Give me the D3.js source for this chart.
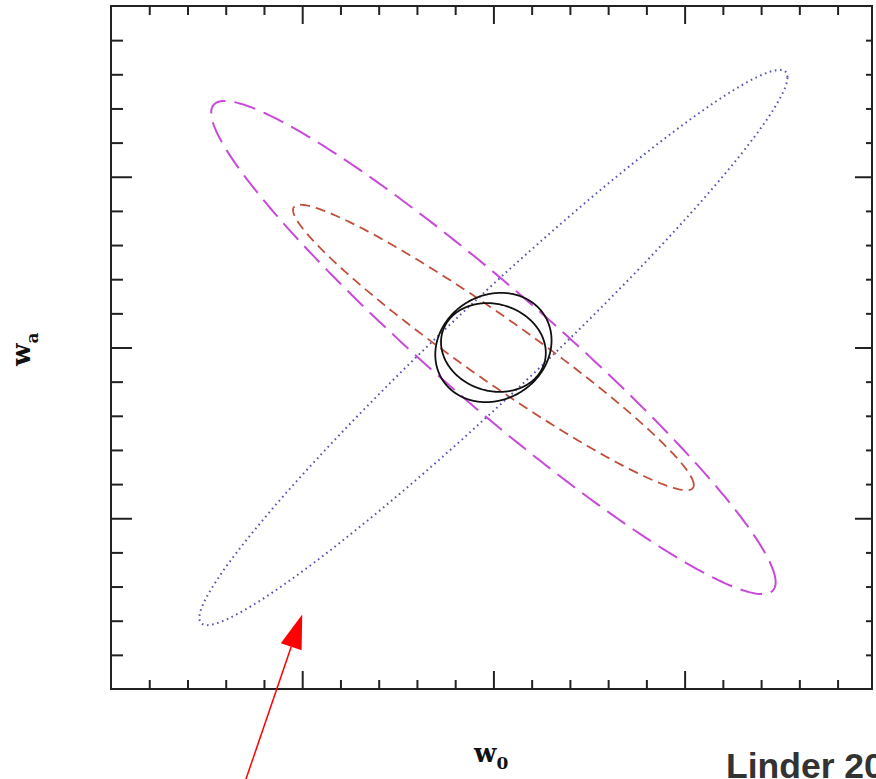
<!DOCTYPE html>
<html>
<head>
<meta charset="utf-8">
<script src="https://cdn.jsdelivr.net/npm/d3@7"></script>
<style>
  html, body { margin: 0; padding: 0; background: #fff; }
  svg { display: block; }
</style>
</head>
<body>
<svg id="chart" width="876" height="779"></svg>
<script>
// Fiducial model (w0, wa)
const fiducialW0 = -1.0;
const fiducialWa = 0.0;

// Confidence contours: half-extent in w0, half-extent in wa, correlation
const contourKeys = ["wideLong", "midShort", "crossDot", "combinedA", "combinedB"];
const halfW0 = [0.738, 0.524, 0.769, 0.152, 0.137];
const halfWa = [0.722, 0.418, 0.813, 0.160, 0.130];
const corrW0Wa = [-0.952, -0.963, 0.9735, 0.13, -0.12];

// Tick positions (no labels shown)
const w0Minor = d3.range(-19, 0).map(i => i / 10);
const w0Major = [-1.5, -1.0, -0.5];
const waMinor = d3.range(-9, 10).map(i => i / 10);
const waMajor = [-0.5, 0.0, 0.5];

// Annotation arrow, in (w0, wa)
const arrowFrom = [-1.652, -1.28];
const arrowTo = [-1.5, -0.782];

const lineStyles = {
  wideLong:  { stroke: "#c84ad8", width: 2.0, dash: "22,9" },
  midShort:  { stroke: "#c0503c", width: 1.8, dash: "10,6" },
  crossDot:  { stroke: "#5656b0", width: 2.0, dash: "1.6,3.6" },
  combinedA: { stroke: "#111111", width: 1.8, dash: null },
  combinedB: { stroke: "#111111", width: 1.8, dash: null }
};

const svg = d3.select("#chart");
const frame = { left: 111, right: 872, top: 6, bottom: 689 };

const x = d3.scaleLinear().domain([-2.0, -0.01]).range([frame.left, frame.right]);
const y = d3.scaleLinear().domain([-1.0, 1.0]).range([frame.bottom, frame.top]);

// Contours
const line = d3.line().x(d => x(d[0])).y(d => y(d[1])).curve(d3.curveLinearClosed);
const ts = d3.range(0, 360, 1).map(a => a * Math.PI / 180);

contourKeys.forEach((key, i) => {
  const hx = halfW0[i], hy = halfWa[i], r = corrW0Wa[i];
  const pts = ts.map(t => [
    fiducialW0 + hx * Math.cos(t),
    fiducialWa + hy * (r * Math.cos(t) + Math.sqrt(1 - r * r) * Math.sin(t))
  ]);
  const st = lineStyles[key];
  const p = svg.append("path")
    .attr("d", line(pts))
    .attr("fill", "none")
    .attr("stroke", st.stroke)
    .attr("stroke-width", st.width)
    .attr("stroke-linejoin", "round");
  if (st.dash) p.attr("stroke-dasharray", st.dash);
});

// Inward ticks on all four sides
function tickAxis(axisFn, scale, values, size, transform) {
  const g = svg.append("g")
    .attr("transform", transform)
    .call(axisFn(scale).tickValues(values).tickSize(size).tickFormat(""));
  g.select(".domain").remove();
  g.selectAll("line").attr("stroke", "#222").attr("stroke-width", 2);
}
const w0MinorOnly = w0Minor.filter(v => !w0Major.some(m => Math.abs(m - v) < 1e-9));
const waMinorOnly = waMinor.filter(v => !waMajor.some(m => Math.abs(m - v) < 1e-9));

tickAxis(d3.axisBottom, x, w0MinorOnly, -9, `translate(0,${frame.bottom})`);
tickAxis(d3.axisBottom, x, w0Major, -18, `translate(0,${frame.bottom})`);
tickAxis(d3.axisTop, x, w0MinorOnly, -9, `translate(0,${frame.top})`);
tickAxis(d3.axisTop, x, w0Major, -18, `translate(0,${frame.top})`);
tickAxis(d3.axisLeft, y, waMinorOnly, -12, `translate(${frame.left},0)`);
tickAxis(d3.axisLeft, y, waMajor, -21, `translate(${frame.left},0)`);
tickAxis(d3.axisRight, y, waMinorOnly, -6, `translate(${frame.right},0)`);
tickAxis(d3.axisRight, y, waMajor, -17, `translate(${frame.right},0)`);

// Frame
svg.append("rect")
  .attr("x", frame.left).attr("y", frame.top)
  .attr("width", frame.right - frame.left).attr("height", frame.bottom - frame.top)
  .attr("fill", "none").attr("stroke", "#222").attr("stroke-width", 2);

// Axis titles
const xt = svg.append("text")
  .attr("x", 474).attr("y", 762)
  .attr("font-family", "DejaVu Serif, serif").attr("font-weight", "bold")
  .attr("font-size", 26).attr("fill", "#111");
xt.append("tspan").text("w");
xt.append("tspan").attr("font-size", 17).attr("dy", 7).text("0");

const yt = svg.append("text")
  .attr("transform", "translate(30,366) rotate(-90)")
  .attr("font-family", "DejaVu Serif, serif").attr("font-weight", "bold")
  .attr("font-size", 26).attr("fill", "#111");
yt.append("tspan").text("w");
yt.append("tspan").attr("font-size", 17).attr("dy", 8).text("a");

// Citation (runs past the right edge)
svg.append("text")
  .attr("x", 726).attr("y", 778)
  .attr("font-family", "Liberation Sans, Arial, sans-serif").attr("font-weight", "bold")
  .attr("font-size", 35.5).attr("fill", "#333")
  .text("Linder 2005");

// Arrow annotation
const ax0 = x(arrowFrom[0]), ay0 = y(arrowFrom[1]);
const ax1 = x(arrowTo[0]), ay1 = y(arrowTo[1]);
const ang = Math.atan2(ay1 - ay0, ax1 - ax0);
const headLen = 34, headHalf = 11;
const bx = ax1 - headLen * Math.cos(ang), by = ay1 - headLen * Math.sin(ang);
svg.append("line")
  .attr("x1", ax0).attr("y1", ay0).attr("x2", bx).attr("y2", by)
  .attr("stroke", "#ff0000").attr("stroke-width", 1.5);
svg.append("path")
  .attr("d", `M${ax1},${ay1}L${bx + headHalf * Math.sin(ang)},${by - headHalf * Math.cos(ang)}L${bx - headHalf * Math.sin(ang)},${by + headHalf * Math.cos(ang)}Z`)
  .attr("fill", "#ff0000");
</script>
</body>
</html>
